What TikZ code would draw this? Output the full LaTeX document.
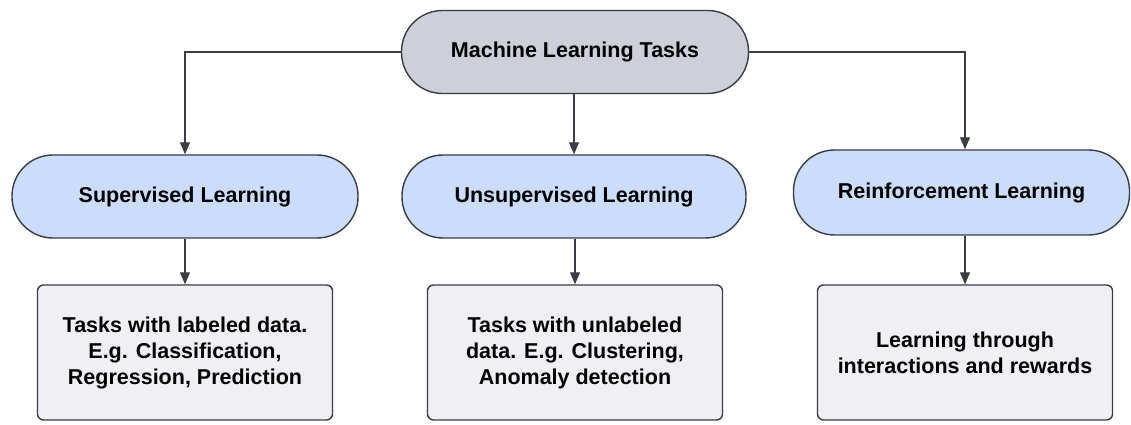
\documentclass[tikz,border=0pt]{standalone}
\usepackage{fontspec}
\setmainfont{Liberation Sans}
\usetikzlibrary{arrows.meta,positioning}
\definecolor{edgegray}{HTML}{3A3D45}
\definecolor{rootfill}{HTML}{CDD0D8}
\definecolor{pillfill}{HTML}{CCDDFB}
\definecolor{boxfill}{HTML}{F0F0F4}
\tikzset{
  x=1pt, y=1pt,
  every node/.style={font=\fontsize{21.5}{26}\selectfont\bfseries, text=black, align=center},
  pill/.style={draw=edgegray, line width=1.4pt, rounded corners=41pt,
               minimum height=83pt, inner sep=0pt},
  rootpill/.style={pill, fill=rootfill, minimum width=347pt},
  catpill/.style={pill, fill=pillfill},
  descbox/.style={draw=edgegray, line width=1.4pt, fill=boxfill, rounded corners=6pt,
                  minimum width=295pt, minimum height=135pt, inner sep=0pt},
  link/.style={draw=edgegray, line width=1.1pt, -{Triangle[length=12pt,width=10pt]}}
}
\begin{document}
\begin{tikzpicture}
\useasboundingbox (0,0) rectangle (1131,425);
\fill[white] (0,0) rectangle (1131,425);

% top level
\node[rootpill] (root) at (575,373) {Machine Learning Tasks};

% categories
\node[catpill, minimum width=346pt] (sup)   at (185,228.5) {Supervised Learning};
\node[catpill, minimum width=344pt] (unsup) at (574,228.5) {Unsupervised Learning};
\node[catpill, minimum width=336pt, minimum height=85pt] (reinf) at (961.5,232.5) {Reinforcement Learning};

% descriptions
\node[descbox] (supbox)   at (185,72.5) {Tasks with labeled data.\\E.g. Classification,\\Regression, Prediction};
\node[descbox] (unsupbox) at (575,72.5) {Tasks with unlabeled\\data. E.g. Clustering,\\Anomaly detection};
\node[descbox] (reinfbox) at (965,72.5) {Learning through\\interactions and rewards};

% connectors
\draw[link] (root.west) -| (sup.north);
\draw[link] (root.south -| unsup.north) -- (unsup.north);
\draw[link] (root.east) -| (reinfbox.north |- reinf.north);
\draw[link] (sup.south) -- (supbox.north);
\draw[link] (unsup.south -| unsupbox.north) -- (unsupbox.north);
\draw[link] (reinfbox.north |- reinf.south) -- (reinfbox.north);
\end{tikzpicture}
\end{document}
